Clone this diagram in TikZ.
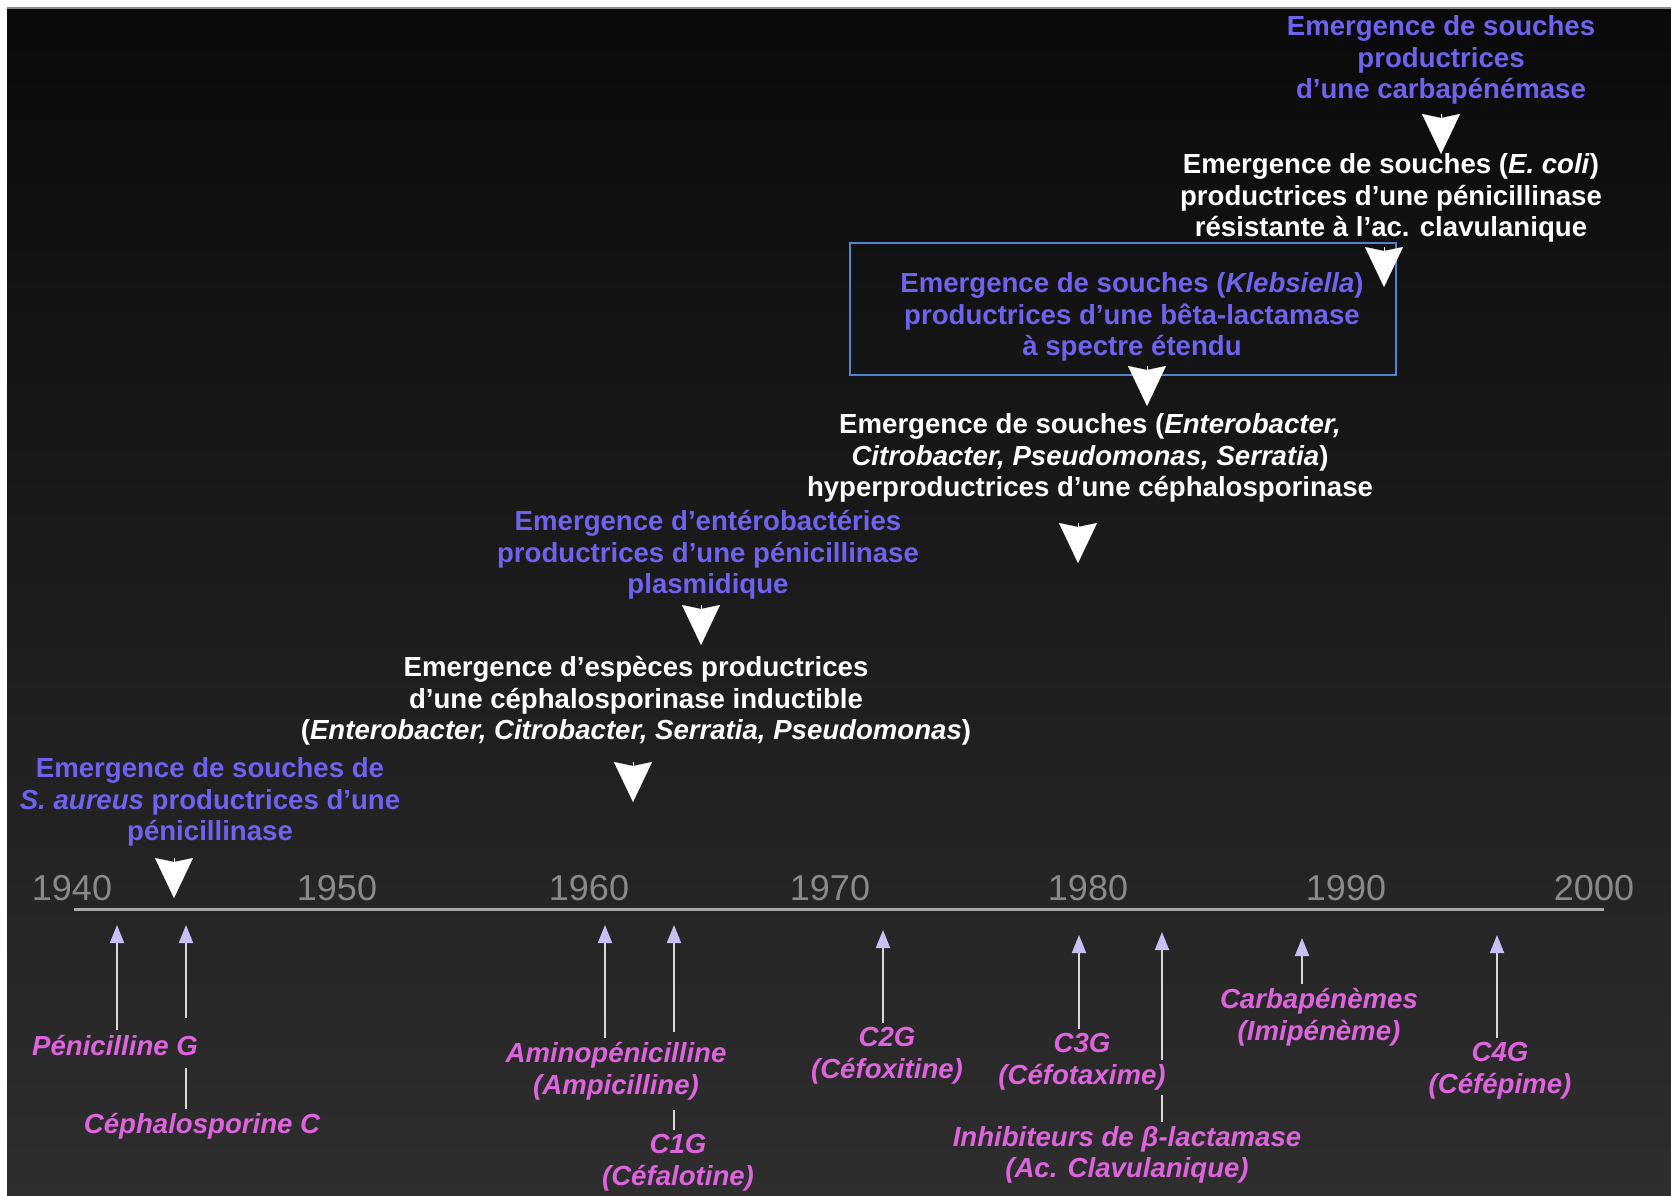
\documentclass[tikz,border=0pt]{standalone}
\usepackage{fontspec}
\setmainfont{Liberation Sans}
\usetikzlibrary{arrows.meta}
\usetikzlibrary{positioning}
\usetikzlibrary{shadings}
\definecolor{evblue}{RGB}{110,98,238}
\definecolor{drugpink}{RGB}{222,100,222}
\definecolor{tiplav}{RGB}{198,192,244}
\definecolor{boxblue}{RGB}{84,132,204}
\definecolor{yeargray}{RGB}{138,138,138}
\definecolor{axisgray}{RGB}{168,168,168}
\tikzstyle{event}=[align=center, inner sep=0pt, font=\fontsize{13.8}{15.8}\selectfont\bfseries]
\tikzstyle{blueevent}=[event, text=evblue]
\tikzstyle{whiteevent}=[event, text=white]
\tikzstyle{drug}=[align=center, inner sep=2pt, text=drugpink, font=\fontsize{13.8}{15.8}\selectfont\bfseries\itshape]
\tikzstyle{year}=[text=yeargray, font=\fontsize{18}{20}\selectfont]
\tikzstyle{down} = [draw=white, line width=0.1pt, -{Stealth[length=20pt, width=19pt, inset=2pt, color=white]}]
\tikzstyle{up} = [draw=black!15, line width=0.9pt, -{Triangle[length=9pt, width=7pt, color=tiplav]}]
\tikzstyle{stem} = [draw=black!15, line width=0.9pt]

\begin{document}
\begin{tikzpicture}[x=0.5pt, y=-0.5pt]

  % frame and background
  \useasboundingbox (0,0) rectangle (1671,1195);
  \fill[white] (0,0) rectangle (1671,1195);
  \shade[top color=black!96, bottom color=black!82] (7,8) rectangle (1671,1195);
  \draw[black!45, line width=1pt] (7,8) -- (1671,8);

  % time axis
  \coordinate (tl0) at (74,909);
  \coordinate (tl1) at (1604,909);
  \draw[axisgray, line width=1.5pt] (tl0) -- (tl1);

  \foreach \x/\yr in {72/1940, 337/1950, 589/1960, 830/1970, 1088/1980, 1346/1990, 1594/2000}
          \node[year] (y\yr) at (\x, 888) {\yr};

  % resistances
  \node[blueevent] (ev7) at (1441, 60) {Emergence de souches\\productrices\\d’une carbapénémase};
  \node[whiteevent] (ev6) at (1391, 198) {Emergence de souches (\textit{E. coli})\\productrices d’une pénicillinase\\résistante à l’ac. clavulanique};
  \node[blueevent] (ev5) at (1132, 317) {Emergence de souches (\textit{Klebsiella})\\productrices d’une bêta-lactamase\\à spectre étendu};
  \node[whiteevent] (ev4) at (1090, 458) {Emergence de souches (\textit{Enterobacter,}\\\textit{Citrobacter, Pseudomonas, Serratia})\\hyperproductrices d’une céphalosporinase};
  \node[blueevent] (ev3) at (708, 555) {Emergence d’entérobactéries\\productrices d’une pénicillinase\\plasmidique};
  \node[whiteevent] (ev2) at (636, 701) {Emergence d’espèces productrices\\d’une céphalosporinase inductible\\(\textit{Enterobacter, Citrobacter, Serratia, Pseudomonas})};
  \node[blueevent] (ev1) at (210, 802) {Emergence de souches de\\\textit{S. aureus} productrices d’une\\pénicillinase};

  \node[draw=boxblue, line width=1.2pt, minimum width=273pt, minimum height=66pt, inner sep=0pt] (ev5box) at (1123, 309) {};

  \foreach \x/\ya/\yb/\name in {1441/114/154/dn7, 1384/247/287/dn6, 1147/366/406/dn5, 1078/523/563/dn4,
                                  701/605/645/dn3, 633/762/802/dn2, 174/858/898/dn1}
  {
          \coordinate (\name s) at (\x, \ya);
          \coordinate (\name e) at (\x, \yb);
          \draw[down] (\name s) -- (\name e);
  }

  % antibiotics
  \node[drug] (peng) at (115, 1045) {Pénicilline G};
  \node[drug] (cephc) at (202, 1126) {Céphalosporine C};
  \node[drug] (amino) at (616, 1071) {Aminopénicilline\\(Ampicilline)};
  \node[drug] (c1g) at (678, 1163) {C1G\\(Céfalotine)};
  \node[drug] (c2g) at (887, 1056) {C2G\\(Céfoxitine)};
  \node[drug] (c3g) at (1082, 1062) {C3G\\(Céfotaxime)};
  \node[drug] (inhib) at (1127, 1155) {Inhibiteurs de β-lactamase\\(Ac. Clavulanique)};
  \node[drug] (carba) at (1319, 1017) {Carbapénèmes\\(Imipénème)};
  \node[drug] (c4g) at (1500, 1071) {C4G\\(Céfépime)};

  \foreach \x/\yt/\name in {117/925/peng, 605/925/amino, 883/930/c2g, 1079/935/c3g, 1302/938/carba, 1497/935/c4g}
  {
          \coordinate (\name tip) at (\x, \yt);
          \draw[up] (\name.north -| \name tip) -- (\name tip);
  }

  \foreach \x/\yt/\yu/\yl/\name in {186/925/1018/1068/cephc, 674/925/1032/1110/c1g, 1162/932/1060/1095/inhib}
  {
          \coordinate (\name tip) at (\x, \yt);
          \coordinate (\name up) at (\x, \yu);
          \coordinate (\name lo) at (\x, \yl);
          \draw[up] (\name up) -- (\name tip);
          \draw[stem] (\name.north -| \name lo) -- (\name lo);
  }

\end{tikzpicture}
\end{document}
